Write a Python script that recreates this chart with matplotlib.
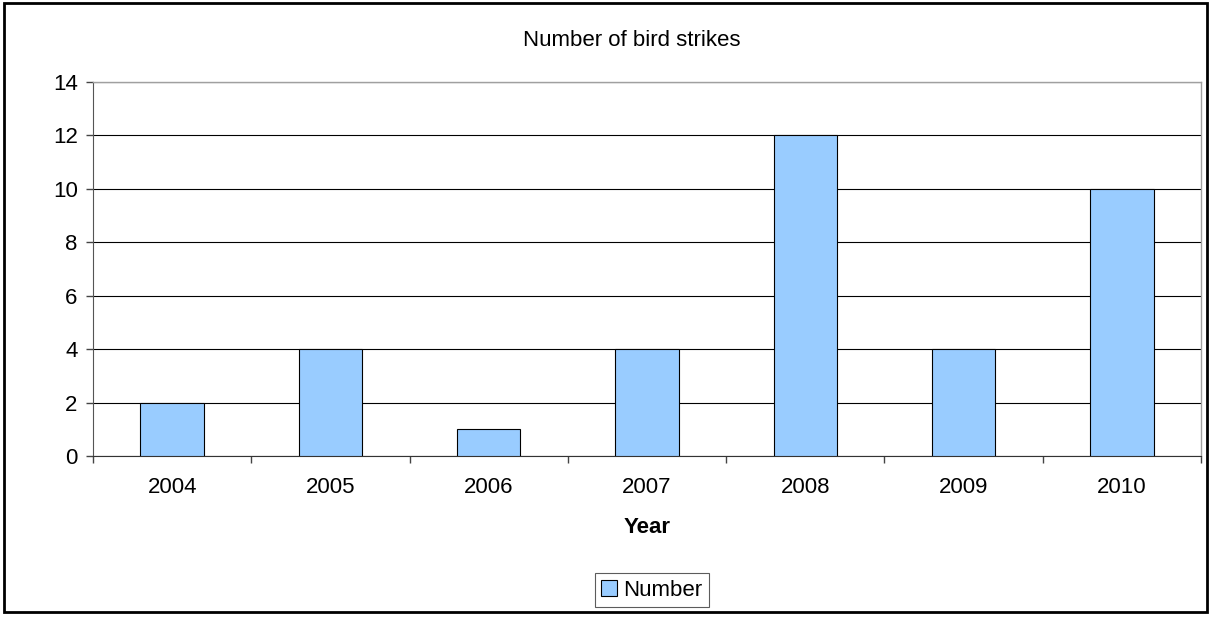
import matplotlib
matplotlib.use("Agg")
import matplotlib.pyplot as plt
from matplotlib.patches import Rectangle

years = ["2004", "2005", "2006", "2007", "2008", "2009", "2010"]
counts = [2, 4, 1, 4, 12, 4, 10]
yticks = [0, 2, 4, 6, 8, 10, 12, 14]

plt.rcParams['font.family'] = ['Liberation Sans', 'DejaVu Sans']

W, H = 1212, 617
fig = plt.figure(figsize=(W / 100, H / 100), dpi=100)
fig.patch.set_facecolor('white')

# outer frame
fig.add_artist(Rectangle((4 / W, 5 / H), (1207 - 4) / W, (614 - 5) / H, transform=fig.transFigure,
                         fill=False, edgecolor='black', linewidth=2))

left, right, top, bottom = 93, 1201, 82, 456
ax = fig.add_axes([left / W, 1 - bottom / H, (right - left) / W, (bottom - top) / H])

x = list(range(len(years)))
ax.bar(x, counts, width=0.4, color='#99ccff', edgecolor='black', linewidth=0.8, zorder=3, label='Number')

ax.set_xlim(-0.5, len(years) - 0.5)
ax.set_ylim(0, 14)
ax.set_yticks(yticks)
ax.set_yticklabels([str(v) for v in yticks], fontsize=16)
ax.yaxis.grid(True, color='black', linewidth=0.8, zorder=0)
ax.set_xticks(x)
ax.set_xticklabels(years, fontsize=16)
ax.tick_params(axis='x', length=0, pad=15)
ax.tick_params(axis='y', length=5, width=1, color='#444444', pad=6)
# minor ticks at category boundaries
ax.set_xticks([i - 0.5 for i in range(len(years) + 1)], minor=True)
ax.tick_params(axis='x', which='minor', length=5, width=1, color='#444444')

for s in ['top', 'right']:
    ax.spines[s].set_color('#a0a0a0')
    ax.spines[s].set_linewidth(1)
ax.spines['left'].set_color('#555555')
ax.spines['bottom'].set_color('#333333')
ax.set_axisbelow(True)

ax.set_xlabel('Year', fontsize=16, fontweight='bold', labelpad=14)
fig.text(632 / W, 1 - 40 / H, 'Number of bird strikes', ha='center', va='center', fontsize=16)

leg = ax.legend(loc='center', bbox_to_anchor=(652 / W, 1 - 590 / H), bbox_transform=fig.transFigure,
                fontsize=16, frameon=True, fancybox=False, edgecolor='#333333', handlelength=0.7,
                handleheight=0.7, handletextpad=0.3, borderpad=0.3, borderaxespad=0)
leg.get_frame().set_linewidth(0.8)

fig.savefig('out.png', dpi=100)
